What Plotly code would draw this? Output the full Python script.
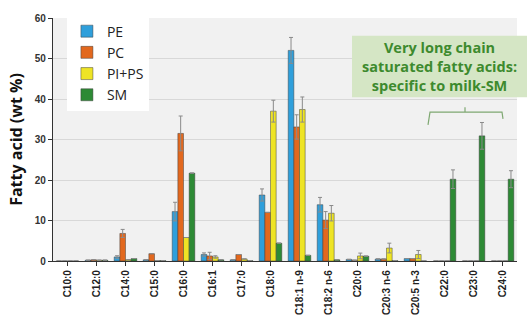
import plotly.graph_objects as go

categories = ["C10:0", "C12:0", "C14:0", "C15:0", "C16:0", "C16:1", "C17:0", "C18:0",
              "C18:1 n-9", "C18:2 n-6", "C20:0", "C20:3 n-6", "C20:5 n-3",
              "C22:0", "C23:0", "C24:0"]

pe = [0.0, 0.2, 1.0, 0.3, 12.2, 1.6, 0.3, 16.3, 52.0, 13.9, 0.4, 0.5, 0.6, 0, 0, 0]
pe_err = [0, 0, 0.3, 0, 2.3, 0.4, 0, 1.5, 3.2, 1.8, 0, 0, 0, 0, 0, 0]
pc = [0.0, 0.3, 6.8, 1.8, 31.5, 1.25, 1.6, 12.0, 33.1, 10.1, 0.2, 0.5, 0.6, 0, 0, 0]
pc_err = [0, 0, 1.0, 0, 4.3, 0.9, 0, 0, 3.0, 2.1, 0, 0, 0, 0, 0, 0]
pips = [0.0, 0.2, 0.3, 0.1, 5.8, 1.0, 0.5, 37.0, 37.4, 11.8, 1.25, 3.2, 1.6, 0, 0, 0]
pips_err = [0, 0, 0, 0, 0, 0.3, 0, 2.7, 3.1, 1.9, 0.7, 1.2, 1.0, 0, 0, 0]
sm = [0.0, 0.2, 0.6, 0.1, 21.7, 0.3, 0.1, 4.4, 1.4, 0.3, 1.2, 0.1, 0.0, 20.2, 30.9, 20.2]
sm_err = [0, 0, 0, 0, 0, 0, 0, 0, 0, 0, 0, 0, 0, 2.3, 3.3, 2.1]

series = [("PE", pe, pe_err, "#2f9fdb"),
          ("PC", pc, pc_err, "#e2681e"),
          ("PI+PS", pips, pips_err, "#eee425"),
          ("SM", sm, sm_err, "#2d8a35")]

fig = go.Figure()
for name, vals, errs, col in series:
    fig.add_trace(go.Bar(
        x=categories, y=vals, name=name,
        marker=dict(color=col, line=dict(color="rgba(60,60,60,0.8)", width=0.6)),
        error_y=dict(type="data", array=errs, visible=True, color="#8a8a8a",
                     thickness=1, width=2),
    ))

fig.update_layout(
    width=529, height=327,
    margin=dict(l=53, r=12, t=14, b=65),
    paper_bgcolor="white",
    plot_bgcolor="#f1f1f1",
    barmode="group",
    bargap=0.22,
    bargroupgap=0.0,
    font=dict(family="Open Sans, sans-serif", color="#333"),
    showlegend=True,
    legend=dict(x=0.03, y=1.01, xanchor="left", yanchor="top",
                bgcolor="white", font=dict(size=14, color="#222"),
                itemwidth=30, tracegroupgap=0),
    xaxis=dict(
        type="category", tickangle=-90,
        tickfont=dict(size=10, family="Liberation Sans, Arial", color="#222", weight="bold"),
        showline=True, linecolor="#333", linewidth=1.2,
        ticks="outside", ticklen=4, tickcolor="#333",
        showgrid=False,
    ),
    yaxis=dict(
        range=[0, 60], dtick=10,
        tickfont=dict(size=10, family="Liberation Sans, Arial", color="#333", weight="bold"),
        showline=True, linecolor="#333", linewidth=1.2,
        ticks="outside", ticklen=4, tickcolor="#333",
        gridcolor="#d8d8d8", gridwidth=1,
        zeroline=False,
        title=dict(text="Fatty acid (wt %)", font=dict(size=16, color="#111", weight="bold"),
                   standoff=8),
    ),
)

def px(x):
    return (x - 53) / 464
def py(y):
    return (262 - y) / 248

# annotation box
fig.add_shape(type="rect", xref="paper", yref="paper",
              x0=px(352), x1=px(527), y0=py(95), y1=py(32),
              fillcolor="#d5e6c5", line=dict(width=0), layer="above")
fig.add_annotation(xref="paper", yref="paper",
                   x=px(439), y=py(63), xanchor="center", yanchor="middle",
                   text="Very long chain<br>saturated fatty acids:<br>specific to milk-SM",
                   showarrow=False, align="center",
                   font=dict(size=14.5, color="#3d8a2e", family="Open Sans, sans-serif", weight="bold"))

# bracket
path = (f"M {px(428)},{py(123)} L {px(430)},{py(110)} L {px(465)},{py(110)} "
        f"L {px(465)},{py(105)} M {px(465)},{py(110)} L {px(502)},{py(110)} L {px(503)},{py(117)}")
fig.add_shape(type="path", xref="paper", yref="paper", path=path,
              line=dict(color="#7fa872", width=1.2))

fig.write_html("out.html")
